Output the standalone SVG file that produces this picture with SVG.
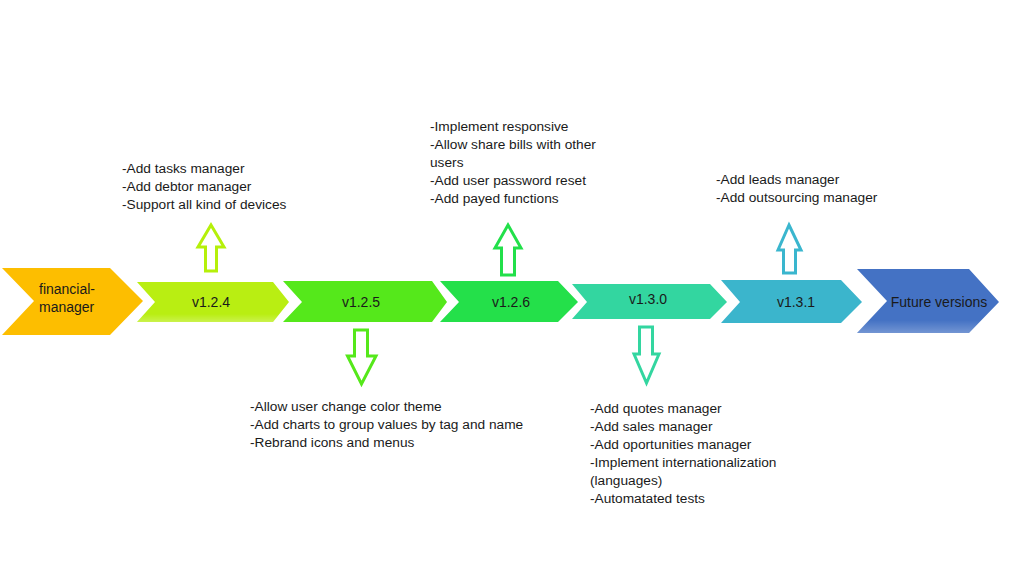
<svg xmlns="http://www.w3.org/2000/svg" width="1024" height="576" viewBox="0 0 1024 576">
<style>
.lbl{font-family:"Liberation Sans",Arial,sans-serif;font-size:14px;fill:#1a1a1a}
.note{font-family:"Liberation Sans",Arial,sans-serif;font-size:13.7px;fill:#1a1a1a}
.arr{fill:#ffffff;stroke-width:3;stroke-linejoin:miter}
</style>
<defs>
<linearGradient id="fade" x1="0" y1="0" x2="0" y2="1">
<stop offset="0.8" stop-color="#ffffff" stop-opacity="0"/>
<stop offset="1" stop-color="#ffffff" stop-opacity="0.25"/>
</linearGradient>
</defs>
<rect width="1024" height="576" fill="#ffffff"/>
<g id="node-financial-manager">
<path d="M2,268 L110,268 L143,301 L110,335 L2,335 L34,301 Z" fill="#FDBE00"/>
<text class="lbl" x="39" y="294">financial-</text>
<text class="lbl" x="39" y="312">manager</text>
</g>
<g id="node-v124">
<path d="M137,282 L273,282 L289,302 L273,322 L137,322 L155,302 Z" fill="#B9EE12"/>
<path d="M137,282 L273,282 L289,302 L273,322 L137,322 L155,302 Z" fill="url(#fade)"/>
<text class="lbl" x="211" y="307" text-anchor="middle">v1.2.4</text>
</g>
<g id="node-v125">
<path d="M283,281 L432,281 L447,302 L432,322 L283,322 L302,302 Z" fill="#55E81B"/>
<text class="lbl" x="361" y="307" text-anchor="middle">v1.2.5</text>
</g>
<g id="node-v126">
<path d="M440,281 L558,281 L578,302 L558,322 L440,322 L459,302 Z" fill="#24E04A"/>
<text class="lbl" x="511" y="307" text-anchor="middle">v1.2.6</text>
</g>
<g id="node-v130">
<path d="M572,284 L710,284 L727,302 L710,319 L572,319 L587,302 Z" fill="#33D6A0"/>
<text class="lbl" x="648" y="304" text-anchor="middle">v1.3.0</text>
</g>
<g id="node-v131">
<path d="M721,280 L841,280 L862,302 L841,323 L721,323 L740,302 Z" fill="#3BB5CC"/>
<text class="lbl" x="796" y="307" text-anchor="middle">v1.3.1</text>
</g>
<g id="node-future">
<path d="M857,269 L969,269 L999,302 L969,333 L857,333 L887,301 Z" fill="#4472C4"/>
<path d="M857,269 L969,269 L999,302 L969,333 L857,333 L887,301 Z" fill="url(#fade)"/>
<text class="lbl" x="939" y="307" text-anchor="middle">Future versions</text>
</g>
<g id="connectors">
<path class="arr" stroke="#B5F00A" d="M211,225 L224,247 L216.5,247 L216.5,271 L205.5,271 L205.5,247 L198,247 Z"/>
<path class="arr" stroke="#22E04A" d="M508,225 L521,248 L514.5,248 L514.5,275 L501.5,275 L501.5,248 L495,248 Z"/>
<path class="arr" stroke="#3AB6CE" d="M789,225 L801,250 L795.5,250 L795.5,273 L783.5,273 L783.5,250 L778,250 Z"/>
<path class="arr" stroke="#55E81A" d="M354.5,330 L367.5,330 L367.5,356 L376,356 L361.5,384 L347.5,356 L354.5,356 Z"/>
<path class="arr" stroke="#33D6A0" d="M639.5,327 L652.5,327 L652.5,354 L659,354 L646.5,383 L634,354 L639.5,354 Z"/>
</g>
<g id="notes-v124">
<text class="note" x="122" y="173">-Add tasks manager</text>
<text class="note" x="122" y="191">-Add debtor manager</text>
<text class="note" x="122" y="209">-Support all kind of devices</text>
</g>
<g id="notes-v126">
<text class="note" x="430" y="131">-Implement responsive</text>
<text class="note" x="430" y="149">-Allow share bills with other</text>
<text class="note" x="430" y="167">users</text>
<text class="note" x="430" y="185">-Add user password reset</text>
<text class="note" x="430" y="203">-Add payed functions</text>
</g>
<g id="notes-v131">
<text class="note" x="716" y="184">-Add leads manager</text>
<text class="note" x="716" y="202">-Add outsourcing manager</text>
</g>
<g id="notes-v125">
<text class="note" x="250" y="411">-Allow user change color theme</text>
<text class="note" x="250" y="429">-Add charts to group values by tag and name</text>
<text class="note" x="250" y="447">-Rebrand icons and menus</text>
</g>
<g id="notes-v130">
<text class="note" x="590" y="413">-Add quotes manager</text>
<text class="note" x="590" y="431">-Add sales manager</text>
<text class="note" x="590" y="449">-Add oportunities manager</text>
<text class="note" x="590" y="467">-Implement internationalization</text>
<text class="note" x="590" y="485">(languages)</text>
<text class="note" x="590" y="503">-Automatated tests</text>
</g>
</svg>
